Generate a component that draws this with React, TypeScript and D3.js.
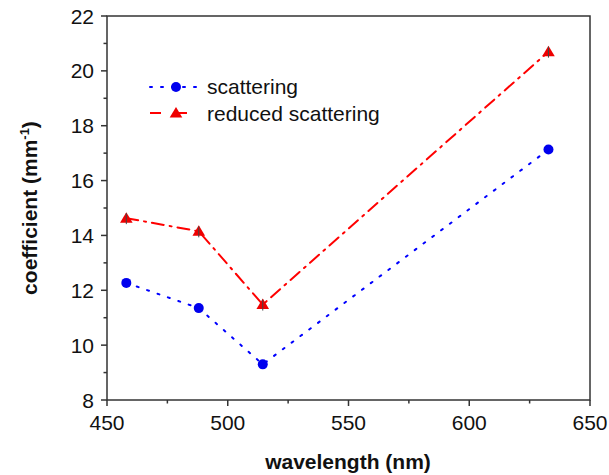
import React from "react";
import * as d3 from "d3";

const wavelengths = [458, 488, 514.5, 632.8];
const scattering = [12.27, 11.35, 9.3, 17.13];
const reducedScattering = [14.63, 14.15, 11.48, 20.7];
const xTicks = [450, 500, 550, 600, 650];
const yTicks = [8, 10, 12, 14, 16, 18, 20, 22];

const W = 609, H = 475;
const L = 107, R = 590, T = 16, B = 400;

export default function App() {
  const x = d3.scaleLinear().domain([450, 650]).range([L, R]);
  const y = d3.scaleLinear().domain([8, 22]).range([B, T]);
  const line = d3.line<[number, number]>().x(d => x(d[0])).y(d => y(d[1]));
  const sData = wavelengths.map((w, i) => [w, scattering[i]] as [number, number]);
  const rData = wavelengths.map((w, i) => [w, reducedScattering[i]] as [number, number]);
  const font = "'Liberation Sans', Arial, sans-serif";
  const tri = (cx: number, cy: number, s: number) =>
    `M${cx},${cy - s}L${cx + s * 1.05},${cy + s * 0.75}L${cx - s * 1.05},${cy + s * 0.75}Z`;
  const minorY = d3.range(9, 22, 2);
  const minorX = d3.range(475, 650, 50);
  return (
    <svg width={W} height={H} style={{ position: "absolute", left: 0, top: 0 }} fontFamily={font}>
      <rect x={0} y={0} width={W} height={H} fill="#fff" />
      <rect x={L} y={T} width={R - L} height={B - T} fill="none" stroke="#333" strokeWidth={1.5} />
      {yTicks.map(t => (
        <g key={"y" + t}>
          <line x1={L - 6} x2={L} y1={y(t)} y2={y(t)} stroke="#333" strokeWidth={1.5} />
          <text x={L - 13} y={y(t) + 7.5} textAnchor="end" fontSize={21} fill="#111">{t}</text>
        </g>
      ))}
      {minorY.map(t => (
        <line key={"my" + t} x1={L - 3.5} x2={L} y1={y(t)} y2={y(t)} stroke="#333" strokeWidth={1.5} />
      ))}
      {xTicks.map(t => (
        <g key={"x" + t}>
          <line x1={x(t)} x2={x(t)} y1={B} y2={B + 6} stroke="#333" strokeWidth={1.5} />
          <text x={x(t)} y={B + 30} textAnchor="middle" fontSize={21} fill="#111">{t}</text>
        </g>
      ))}
      {minorX.map(t => (
        <line key={"mx" + t} x1={x(t)} x2={x(t)} y1={B} y2={B + 3.5} stroke="#333" strokeWidth={1.5} />
      ))}
      <path d={line(sData) || ""} fill="none" stroke="#0000ff" strokeWidth={2} strokeDasharray="2,9" strokeLinecap="round" />
      <path d={line(rData) || ""} fill="none" stroke="#ff0000" strokeWidth={2} strokeDasharray="12,6,2,6" strokeLinecap="round" />
      {sData.map((d, i) => (
        <circle key={"s" + i} cx={x(d[0])} cy={y(d[1])} r={5} fill="#0000ee" />
      ))}
      {rData.map((d, i) => (
        <g key={"r" + i}>
          <path d={tri(x(d[0]), y(d[1]), 6)} fill="#ee0000" />
          <line x1={x(d[0])} x2={x(d[0])} y1={y(d[1]) - 5} y2={y(d[1]) + 6} stroke="#444" strokeWidth={1} />
        </g>
      ))}
      <line x1={150} x2={198} y1={87} y2={87} stroke="#0000ff" strokeWidth={2} strokeDasharray="2,9" strokeLinecap="round" />
      <circle cx={176} cy={87} r={5} fill="#0000ee" />
      <text x={207} y={94} fontSize={21} fill="#111">scattering</text>
      <line x1={150} x2={198} y1={113} y2={113} stroke="#ff0000" strokeWidth={2} strokeDasharray="11,15" />
      <path d={tri(176, 113, 6)} fill="#ee0000" />
      <text x={207} y={121} fontSize={21} fill="#111">reduced scattering</text>
      <text x={348} y={469} textAnchor="middle" fontSize={21} fontWeight="bold" fill="#111">wavelength (nm)</text>
      <text transform={`translate(37,${(T + B) / 2}) rotate(-90)`} textAnchor="middle" fontSize={21} fontWeight="bold" fill="#111">
        coefficient (mm<tspan dy={-8} fontSize={13}>-1</tspan><tspan dy={8}>)</tspan>
      </text>
    </svg>
  );
}
